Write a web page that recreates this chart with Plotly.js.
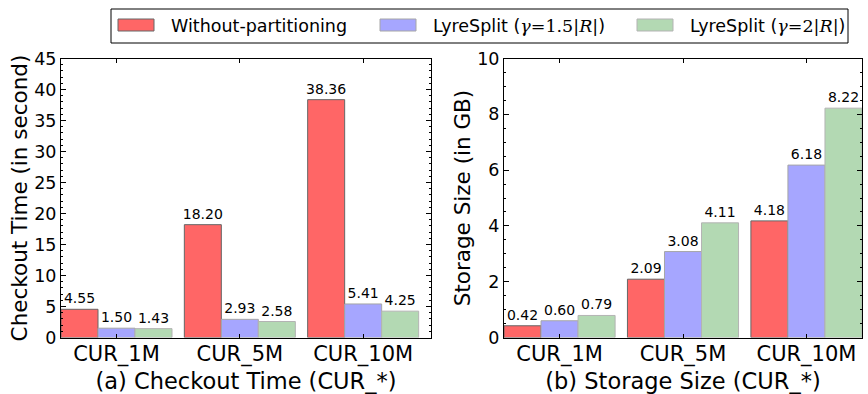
<!DOCTYPE html>
<html>
<head>
<meta charset="utf-8">
<script src="https://cdn.plot.ly/plotly-3.0.1.min.js"></script>
<style>html,body{margin:0;padding:0;background:#fff;}#chart{width:868px;height:394px;}</style>
</head>
<body>
<div id="chart"></div>
<script>
// ---- data ----
const categories = ['CUR_1M', 'CUR_5M', 'CUR_10M'];
const seriesNames = ['Without-partitioning', 'LyreSplit (γ=1.5|R|)', 'LyreSplit (γ=2|R|)'];
const checkoutWithout = [4.55, 18.20, 38.36];
const checkoutLyre15 = [1.50, 2.93, 5.41];
const checkoutLyre2 = [1.43, 2.58, 4.25];
const storageWithout = [0.42, 2.09, 4.18];
const storageLyre15 = [0.60, 3.08, 6.18];
const storageLyre2 = [0.79, 4.11, 8.22];
const checkoutTicks = [0, 5, 10, 15, 20, 25, 30, 35, 40, 45];
const storageTicks = [0, 2, 4, 6, 8, 10];

// ---- style ----
const W = 868, H = 394;
const px = v => v / W;
const py = v => 1 - v / H;
const FONT = 'DejaVu Sans, sans-serif';
const fills = ['#ff6666', '#a6a6ff', '#b3d9b3'];
const edges = ['#666666', '#a6a6a6', '#b3b3b3'];

function barTrace(name, y, idx, xa, ya) {
  return {
    type: 'bar', name: name, x: categories, y: y,
    xaxis: xa, yaxis: ya,
    marker: {color: fills[idx], line: {color: edges[idx], width: 1}},
    texttemplate: '%{y:.2f}', textposition: 'outside',
    textfont: {family: FONT, size: 14, color: '#000'},
    constraintext: 'none', cliponaxis: false,
    showlegend: false, hoverinfo: 'skip'
  };
}

const data = [
  barTrace(seriesNames[0], checkoutWithout, 0, 'x', 'y'),
  barTrace(seriesNames[1], checkoutLyre15, 1, 'x', 'y'),
  barTrace(seriesNames[2], checkoutLyre2, 2, 'x', 'y'),
  barTrace(seriesNames[0], storageWithout, 0, 'x2', 'y2'),
  barTrace(seriesNames[1], storageLyre15, 1, 'x2', 'y2'),
  barTrace(seriesNames[2], storageLyre2, 2, 'x2', 'y2')
];

const xCommon = {
  type: 'category', showline: true, linecolor: '#000', linewidth: 1, mirror: 'ticks',
  ticks: 'inside', ticklen: 4, tickcolor: '#000', showgrid: false, zeroline: false,
  tickfont: {family: FONT, size: 21, color: '#000'}, ticklabelstandoff: -3, fixedrange: true
};
const yCommon = {
  showline: true, linecolor: '#000', linewidth: 1, mirror: 'ticks',
  ticks: 'inside', ticklen: 5, tickcolor: '#000', showgrid: false, zeroline: false,
  tickfont: {family: FONT, size: 17.5, color: '#000'}, fixedrange: true
};

const mathSpan = s => "<span style=\"font-family:'DejaVu Serif'\">" + s + "</span>";
const legendLabels = [
  seriesNames[0],
  'LyreSplit (' + mathSpan('<i>γ</i>=1.5|<i>R</i>|') + ')',
  'LyreSplit (' + mathSpan('<i>γ</i>=2|<i>R</i>|') + ')'
];
const legendPatchX = [118, 380, 637];

const shapes = [{
  type: 'rect', xref: 'paper', yref: 'paper',
  x0: px(111), x1: px(848), y0: py(43), y1: py(9),
  line: {color: '#000', width: 1}, fillcolor: 'rgba(0,0,0,0)'
}];
const annotations = [];
for (let i = 0; i < 3; i++) {
  shapes.push({
    type: 'rect', xref: 'paper', yref: 'paper',
    x0: px(legendPatchX[i]), x1: px(legendPatchX[i] + 36), y0: py(31), y1: py(19),
    line: {color: edges[i], width: 1}, fillcolor: fills[i]
  });
  annotations.push({
    xref: 'paper', yref: 'paper', x: px(legendPatchX[i] + 51), y: py(25.5),
    xanchor: 'left', yanchor: 'middle', showarrow: false,
    text: legendLabels[i], font: {family: FONT, size: 17.5, color: '#000'}
  });
}

const layout = {
  width: W, height: H,
  margin: {l: 0, r: 0, t: 0, b: 0},
  paper_bgcolor: '#fff', plot_bgcolor: '#fff',
  barmode: 'group', bargap: 0.1, bargroupgap: 0,
  font: {family: FONT, color: '#000'},
  xaxis: Object.assign({}, xCommon, {
    domain: [px(61), px(431)], anchor: 'y', range: [-0.45, 2.55],
    title: {text: '(a) Checkout Time (CUR_*)', font: {family: FONT, size: 22.5, color: '#000'}, standoff: 10}
  }),
  yaxis: Object.assign({}, yCommon, {
    domain: [py(337.5), py(58.5)], anchor: 'x', range: [0, 45],
    tickvals: checkoutTicks, ticktext: checkoutTicks.map(String),
    minor: {dtick: 1, ticklen: 2, ticks: 'inside', tickcolor: '#000'},
    title: {text: 'Checkout Time (in second)', font: {family: FONT, size: 21.5, color: '#000'}, standoff: 0}
  }),
  xaxis2: Object.assign({}, xCommon, {
    domain: [px(504), px(862)], anchor: 'y2', range: [-0.45, 2.45],
    title: {text: '(b) Storage Size (CUR_*)', font: {family: FONT, size: 22.5, color: '#000'}, standoff: 10}
  }),
  yaxis2: Object.assign({}, yCommon, {
    domain: [py(337.5), py(58.5)], anchor: 'x2', range: [0, 10],
    tickvals: storageTicks, ticktext: storageTicks.map(String),
    minor: {dtick: 0.5, ticklen: 2, ticks: 'inside', tickcolor: '#000'},
    title: {text: 'Storage Size (in GB)', font: {family: FONT, size: 21.5, color: '#000'}, standoff: 0}
  }),
  shapes: shapes,
  annotations: annotations
};

Plotly.newPlot('chart', data, layout, {staticPlot: true, displayModeBar: false});
</script>
</body>
</html>
